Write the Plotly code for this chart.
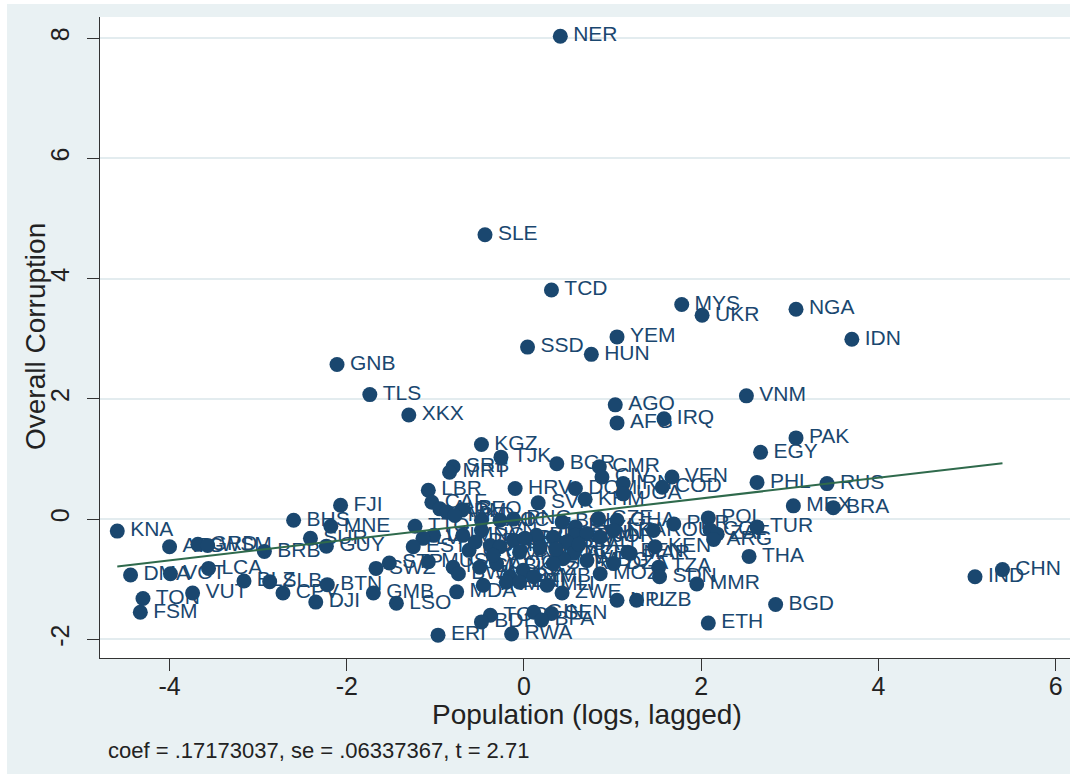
import plotly.graph_objects as go

# ---------------- data ----------------
countries = [
    "NER", "SLE", "TCD", "MYS", "UKR", "NGA", "YEM", "IDN", "SSD", "HUN",
    "GNB", "TLS", "VNM", "AGO", "XKX", "IRQ", "AFG", "PAK", "KGZ", "EGY",
    "TJK", "BGR", "CMR", "SRB", "MRT", "CIV", "VEN", "RUS", "PHL", "IRN",
    "COD", "DOM", "HRV", "LBR", "UGA", "KHM", "CAF", "SVK", "FJI", "MEX",
    "BRA", "ALB", "GEO", "ARM", "MKD", "POL", "BHS", "LAO", "NIC", "PNG",
    "CZE", "GHA", "BOL", "PER", "MNE", "TTO", "ECU", "TUR", "COL", "ROU",
    "SVN", "LKA", "KNA", "ZAF", "LTU", "MNG", "PRY", "GTM", "TUN", "HND",
    "JOR", "SUR", "LVA", "CRI", "BIH", "ARG", "SLV", "JAM", "GRD", "WSM",
    "GUY", "ATG", "EST", "PAN", "KEN", "BRB", "BEN", "AZE", "MAR", "THA",
    "MWI", "MDG", "MUS", "STP", "COG", "SYR", "DZA", "TZA", "NAM", "GAB",
    "SWZ", "LCA", "CHN", "KAZ", "VCT", "BWA", "MOZ", "DMA", "IND", "LBY",
    "ZMB", "SDN", "BLZ", "SLB", "LBN", "HTI", "BTN", "TKM", "MLI", "MMR",
    "MDA", "VUT", "CPV", "GMB", "ZWE", "TON", "NPL", "UZB", "DJI", "LSO",
    "BGD", "FSM", "GIN", "SEN", "TGO", "BFA", "BDI", "ETH", "RWA", "ERI",
    "URY", "OMN", "CUB", "BLR", "CHL", "SAU", "PRK",
]

pop_x = [
    0.41, -0.44, 0.31, 1.78, 2.01, 3.07, 1.05, 3.70, 0.04, 0.76,
    -2.11, -1.74, 2.51, 1.03, -1.30, 1.58, 1.05, 3.07, -0.48, 2.67,
    -0.26, 0.37, 0.85, -0.80, -0.84, 0.88, 1.67, 3.42, 2.63, 1.12,
    1.56, 0.58, -0.10, -1.08, 1.12, 0.69, -1.04, 0.16, -2.07, 3.04,
    3.49, -0.95, -0.70, -0.87, -0.78, 2.08, -2.60, -0.48, -0.27, -0.12,
    0.84, 1.05, 0.43, 1.69, -2.18, -1.23, 0.58, 2.63, 2.10, 1.46,
    -0.48, 1.01, -4.59, 2.18, -1.02, -0.69, 0.14, 0.58, 0.71, 0.33,
    0.86, -2.41, -1.14, -0.12, 0.01, 2.14, 0.48, -0.38, -3.68, -3.57,
    -2.23, -4.00, -1.25, -0.27, 1.48, -2.93, 1.17, 0.56, 1.20, 2.54,
    0.44, 0.71, -1.08, -1.52, -0.31, 0.33, 1.01, 1.52, -0.80, -0.50,
    -1.67, -3.56, 5.40, -0.01, -3.99, -0.74, 0.86, -4.44, 5.09, -0.16,
    0.11, 1.53, -3.16, -2.87, -0.20, -0.05, -2.22, -0.46, 0.26, 1.95,
    -0.76, -3.74, -2.72, -1.70, 0.43, -4.30, 1.05, 1.27, -2.35, -1.44,
    2.84, -4.33, 0.11, 0.31, -0.38, 0.20, -0.48, 2.08, -0.14, -0.97,
    -0.62, -0.35, -0.05, 0.18, 0.36, 0.62, -0.55,
]

corr_y = [
    8.03, 4.73, 3.81, 3.57, 3.39, 3.49, 3.03, 2.99, 2.86, 2.74,
    2.57, 2.07, 2.05, 1.90, 1.73, 1.67, 1.60, 1.35, 1.24, 1.11,
    1.03, 0.92, 0.87, 0.87, 0.78, 0.70, 0.70, 0.59, 0.61, 0.59,
    0.53, 0.51, 0.51, 0.48, 0.42, 0.33, 0.28, 0.27, 0.23, 0.22,
    0.19, 0.17, 0.15, 0.12, 0.06, 0.02, -0.02, -0.02, -0.02, 0.00,
    0.01, -0.02, -0.05, -0.08, -0.12, -0.12, -0.13, -0.13, -0.18, -0.19,
    -0.19, -0.19, -0.20, -0.25, -0.27, -0.27, -0.27, -0.27, -0.24, -0.30,
    -0.30, -0.32, -0.32, -0.35, -0.32, -0.34, -0.38, -0.44, -0.42, -0.44,
    -0.45, -0.46, -0.46, -0.46, -0.46, -0.54, -0.55, -0.57, -0.57, -0.62,
    -0.66, -0.69, -0.71, -0.73, -0.74, -0.74, -0.74, -0.80, -0.80, -0.80,
    -0.82, -0.82, -0.84, -0.85, -0.91, -0.91, -0.91, -0.93, -0.96, -0.96,
    -0.96, -0.96, -1.03, -1.04, -1.05, -1.05, -1.09, -1.10, -1.10, -1.08,
    -1.21, -1.23, -1.23, -1.23, -1.23, -1.32, -1.35, -1.35, -1.38, -1.40,
    -1.42, -1.55, -1.55, -1.57, -1.60, -1.68, -1.71, -1.73, -1.91, -1.93,
    -0.52, -0.60, -0.55, -0.48, -0.50, -0.42, -0.38,
]

coef = 0.17173037
se = 0.06337367
t_stat = 2.71

x_ticks = [-4, -2, 0, 2, 4, 6]
y_ticks = [-2, 0, 2, 4, 6, 8]

x_title = "Population (logs, lagged)"
y_title = "Overall Corruption"

# ---------------- styling ----------------
NAVY = "#1a476f"
FIT = "#2f6a4c"
BG = "#e9f1f3"
GRID = "#e3ecef"
AX = "#333333"
TXT = "#222222"
FONT = "Liberation Sans, Arial, sans-serif"

fit_x = [min(pop_x), max(pop_x)]
fit_y = [coef * v for v in fit_x]

note = "coef = {}, se = {}, t = {}".format(
    ("%.8f" % coef).lstrip("0"), ("%.8f" % se).lstrip("0"), "%.2f" % t_stat)

fig = go.Figure()

# labels (drawn first so the dots cover them, as in the reference)
fig.add_trace(go.Scatter(
    x=pop_x, y=corr_y, mode="markers+text", text=countries,
    textposition="middle right",
    marker=dict(size=19, color="rgba(0,0,0,0)"),
    textfont=dict(family=FONT, size=21, color=NAVY),
    hoverinfo="skip", showlegend=False,
))
# dots
fig.add_trace(go.Scatter(
    x=pop_x, y=corr_y, mode="markers",
    marker=dict(size=15, color=NAVY),
    text=countries, showlegend=False,
))
# fitted line
fig.add_trace(go.Scatter(
    x=fit_x, y=fit_y, mode="lines",
    line=dict(color=FIT, width=2), showlegend=False,
))

PL, PR, PT, PB = 100, 0, 17, 116
W, H = 1070, 774
pw, ph = W - PL - PR, H - PT - PB

def px(xp):
    return (xp - PL) / pw

def py(yp):
    return (H - PB - yp) / ph

fig.update_layout(
    width=W, height=H,
    margin=dict(l=PL, r=PR, t=PT, b=PB, autoexpand=False),
    paper_bgcolor=BG, plot_bgcolor="white",
    font=dict(family=FONT, color=TXT),
    xaxis=dict(
        range=[-4.785, 6.162], tickvals=x_ticks,
        ticktext=[str(v) for v in x_ticks],
        ticks="outside", ticklen=12, tickwidth=1.3, tickcolor=AX,
        showline=True, linecolor=AX, linewidth=1.3,
        showgrid=False, zeroline=False,
        tickfont=dict(family=FONT, size=25, color=TXT),
        ticklabelstandoff=-6,
    ),
    yaxis=dict(
        range=[-2.31, 8.35], tickvals=y_ticks,
        ticktext=[str(v) for v in y_ticks], tickangle=-90,
        ticks="outside", ticklen=12, tickwidth=1.3, tickcolor=AX,
        showline=True, linecolor=AX, linewidth=1.3,
        showgrid=True, gridcolor=GRID, gridwidth=2, zeroline=False,
        tickfont=dict(family=FONT, size=25, color=TXT),
        ticklabelstandoff=8,
    ),
    shapes=[
        dict(type="rect", xref="paper", yref="paper", layer="below",
             x0=px(-5), x1=px(W + 5), y0=py(4), y1=py(-5),
             fillcolor="white", line=dict(width=0)),
        dict(type="rect", xref="paper", yref="paper", layer="below",
             x0=px(-5), x1=px(7), y0=py(H + 5), y1=py(-5),
             fillcolor="white", line=dict(width=0)),
    ],
    annotations=[
        dict(text=x_title, xref="paper", yref="paper", x=px(587), y=py(714),
             xanchor="center", yanchor="middle", showarrow=False,
             font=dict(family=FONT, size=28, color=TXT)),
        dict(text=y_title, xref="paper", yref="paper", x=px(35), y=py(337),
             xanchor="center", yanchor="middle", showarrow=False, textangle=-90,
             font=dict(family=FONT, size=28, color=TXT)),
        dict(text=note, xref="paper", yref="paper", x=px(106), y=py(750),
             xanchor="left", yanchor="middle", showarrow=False,
             font=dict(family=FONT, size=22, color=TXT)),
    ],
)

fig.write_html("out.html", config={"displayModeBar": False},
               post_script="document.body.style.margin='0';")
